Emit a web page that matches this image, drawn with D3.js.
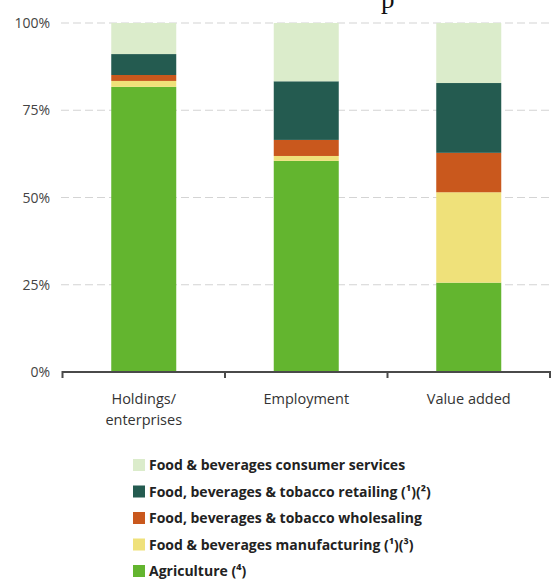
<!DOCTYPE html>
<html>
<head>
<meta charset="utf-8">
<script src="https://cdn.jsdelivr.net/npm/d3@7"></script>
<style>
body{margin:0;background:#fff;}
</style>
</head>
<body>
<div id="chart"></div>
<script>
var width=551, height=587;

var categories=["Holdings/\nenterprises","Employment","Value added"];
var seriesKeys=["agri","manuf","wholesale","retail","consumer"];
var agriculture=[81.7,60.5,25.6];
var manufacturing=[1.7,1.4,25.9];
var wholesaling=[1.7,4.6,11.3];
var retailing=[6.0,16.8,20.0];
var consumerServices=[8.9,16.7,17.2];
var yTicks=[0,25,50,75,100];
var legendLabels=["Food & beverages consumer services","Food, beverages & tobacco retailing (\u00B9)(\u00B2)","Food, beverages & tobacco wholesaling","Food & beverages manufacturing (\u00B9)(\u00B3)","Agriculture (\u2074)"];

var colors={agri:"#63b52f",manuf:"#efe17a",wholesale:"#c9581d",retail:"#245b50",consumer:"#dbeccb"};
var legendKeys=["consumer","retail","wholesale","manuf","agri"];

var rows=categories.map(function(c,i){
	return {cat:c,agri:agriculture[i],manuf:manufacturing[i],wholesale:wholesaling[i],retail:retailing[i],consumer:consumerServices[i]};
});

var svg=d3.select("#chart").append("svg").attr("width",width).attr("height",height);

// leftover of the title cut at the top
svg.append("text").text("p").attr("x",381).attr("y",8).attr("font-family","Liberation Serif, serif").attr("font-size",27).attr("fill","#111");

var x=d3.scaleBand().domain(categories).range([62.5,550]).paddingInner(0.6).paddingOuter(0.3);
var y=d3.scaleLinear().domain([0,100]).range([372,23]);

// dashed grid
svg.append("g").selectAll("line").data(yTicks.filter(function(d){return d>0;})).enter().append("line")
	.attr("x1",61).attr("x2",551).attr("y1",function(d){return y(d);}).attr("y2",function(d){return y(d);})
	.attr("stroke","#d4d4d4").attr("stroke-width",1.2).attr("stroke-dasharray","8,4");

svg.append("g").selectAll("text").data(yTicks).enter().append("text")
	.text(function(d){return d+"%";}).attr("x",50).attr("y",function(d){return y(d)+5;})
	.attr("text-anchor","end").attr("font-family","Open Sans").attr("font-size",14).attr("fill","#444");

var stacked=d3.stack().keys(seriesKeys)(rows);
svg.append("g").selectAll("g").data(stacked).enter().append("g").attr("fill",function(d){return colors[d.key];})
	.selectAll("rect").data(function(d){return d;}).enter().append("rect")
	.attr("x",function(d){return x(d.data.cat);}).attr("width",x.bandwidth())
	.attr("y",function(d){return y(d[1]);}).attr("height",function(d){return y(d[0])-y(d[1]);});

// x axis with ticks at band edges
var axis=svg.append("g");
axis.append("line").attr("x1",62.5).attr("x2",550).attr("y1",372).attr("y2",372).attr("stroke","#4a4a4a").attr("stroke-width",2);
var edges=categories.map(function(c){return x(c)-x.step()*0.3;}).concat([550]);
axis.selectAll("line.tk").data(edges).enter().append("line").attr("class","tk")
	.attr("x1",function(d){return d;}).attr("x2",function(d){return d;}).attr("y1",371).attr("y2",378)
	.attr("stroke","#4a4a4a").attr("stroke-width",2);
axis.selectAll("text").data(categories).enter().append("text")
	.attr("x",function(d){return x(d)+x.bandwidth()/2;}).attr("y",404)
	.attr("text-anchor","middle").attr("font-family","Open Sans").attr("font-size",14.5).attr("fill","#333")
	.each(function(d){
		var t=d3.select(this);
		d.split("\n").forEach(function(s,i){
			t.append("tspan").attr("x",x(d)+x.bandwidth()/2).attr("dy",i?21:0).text(s);
		});
	});

// legend
var leg=svg.append("g").selectAll("g").data(legendKeys).enter().append("g")
	.attr("transform",function(d,i){return "translate(133,"+(465+i*26.5)+")";});
leg.append("rect").attr("x",0).attr("y",-6).attr("width",12).attr("height",12).attr("fill",function(d){return colors[d];});
leg.append("text").attr("x",16).attr("y",5).text(function(d,i){return legendLabels[i];})
	.attr("font-family","Open Sans, sans-serif").attr("font-weight","bold").attr("font-size",14).attr("fill","#222");
</script>
</body>
</html>
